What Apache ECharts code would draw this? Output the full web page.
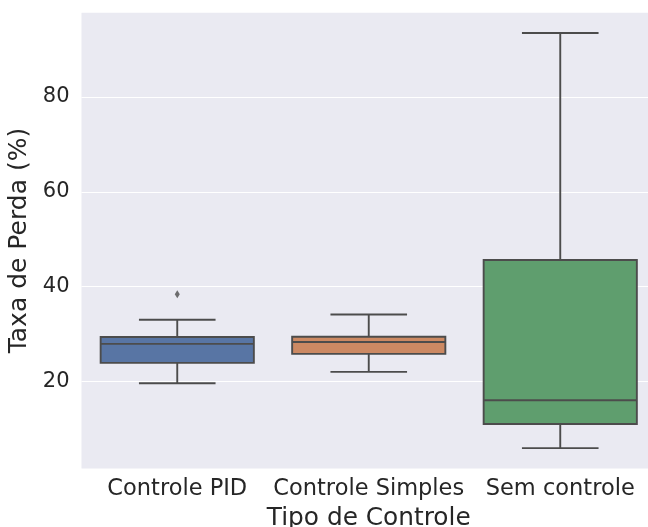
<!DOCTYPE html>
<html>
<head>
<meta charset="utf-8">
<script src="https://cdn.jsdelivr.net/npm/echarts@6/dist/echarts.min.js"></script>
<style>html,body{margin:0;padding:0;background:#fff;}#c{width:648px;height:527px;}</style>
</head>
<body>
<div id="c"></div>
<script>
const categories = ['Controle PID', 'Controle Simples', 'Sem controle'];
const whiskerLow = [19.6, 22.0, 5.9];
const q1 = [23.9, 25.8, 11.0];
const median = [27.9, 28.3, 16.0];
const q3 = [29.35, 29.4, 45.6];
const whiskerHigh = [33.0, 34.1, 93.5];
const outliers = [[0, 38.4]];
const boxColors = ['#5875a4', '#cc8963', '#5f9e6e'];
const yTicks = [20, 40, 60, 80];

const lineColor = '#4c4c4c';
const textColor = '#262626';
const font = 'DejaVu Sans';

const boxData = categories.map((c, i) => [i, whiskerLow[i], q1[i], median[i], q3[i], whiskerHigh[i]]);

const chart = echarts.init(document.getElementById('c'), null, {renderer: 'canvas'});
chart.setOption({
  animation: false,
  backgroundColor: '#ffffff',
  grid: {left: 81.5, top: 12.7, width: 574.5, height: 455.8, show: true, backgroundColor: '#eaeaf2', borderWidth: 0,
    containLabel: false, outerBoundsMode: 'none'},
  xAxis: {
    type: 'category',
    data: categories,
    boundaryGap: true,
    axisLine: {show: false},
    axisTick: {show: false},
    splitLine: {show: false},
    axisLabel: {color: textColor, fontFamily: font, fontSize: 22.5, margin: 9.5, interval: 0, hideOverlap: false},
    name: 'Tipo de Controle',
    nameLocation: 'middle',
    nameGap: 34.5,
    nameTextStyle: {color: textColor, fontFamily: font, fontSize: 24.8}
  },
  yAxis: {
    type: 'value',
    min: 1.6,
    max: 97.8,
    axisLine: {show: false},
    axisTick: {show: false, customValues: yTicks},
    axisLabel: {color: textColor, fontFamily: font, fontSize: 21, margin: 12, customValues: yTicks},
    splitLine: {show: true, lineStyle: {color: '#ffffff', width: 1.2}},
    name: 'Taxa de Perda (%)',
    nameLocation: 'middle',
    nameGap: 37.5,
    nameTextStyle: {color: textColor, fontFamily: font, fontSize: 25}
  },
  series: [
    {
      type: 'custom',
      data: boxData,
      encode: {x: 0, y: [1, 2, 3, 4, 5]},
      renderItem: function (params, api) {
        const idx = api.value(0);
        const band = api.size([1, 0])[0];
        const cx = api.coord([idx, 0])[0];
        const half = band * 0.4;
        const capHalf = band * 0.2;
        const yLow = api.coord([idx, api.value(1)])[1];
        const yQ1 = api.coord([idx, api.value(2)])[1];
        const yMed = api.coord([idx, api.value(3)])[1];
        const yQ3 = api.coord([idx, api.value(4)])[1];
        const yHigh = api.coord([idx, api.value(5)])[1];
        const ls = {stroke: lineColor, lineWidth: 1.9};
        return {
          type: 'group',
          children: [
            {type: 'line', shape: {x1: cx, y1: yQ1, x2: cx, y2: yLow}, style: ls},
            {type: 'line', shape: {x1: cx, y1: yQ3, x2: cx, y2: yHigh}, style: ls},
            {type: 'line', shape: {x1: cx - capHalf, y1: yLow, x2: cx + capHalf, y2: yLow}, style: ls},
            {type: 'line', shape: {x1: cx - capHalf, y1: yHigh, x2: cx + capHalf, y2: yHigh}, style: ls},
            {type: 'rect', shape: {x: cx - half, y: yQ3, width: half * 2, height: yQ1 - yQ3},
              style: {fill: boxColors[params.dataIndex], stroke: lineColor, lineWidth: 1.9}},
            {type: 'line', shape: {x1: cx - half, y1: yMed, x2: cx + half, y2: yMed}, style: ls}
          ]
        };
      }
    },
    {
      type: 'scatter',
      data: outliers,
      symbol: 'diamond',
      symbolSize: [5, 8],
      itemStyle: {color: lineColor},
      silent: true
    }
  ]
});
</script>
</body>
</html>
